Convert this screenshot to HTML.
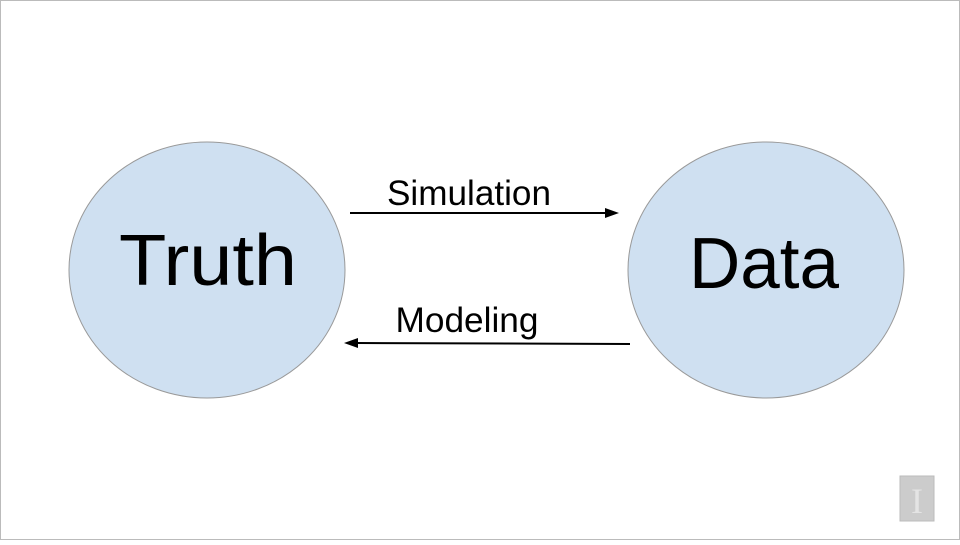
<!DOCTYPE html>
<html><head><style>
html,body{margin:0;padding:0;background:#fff;}
</style></head><body>
<svg width="960" height="540" viewBox="0 0 960 540" xmlns="http://www.w3.org/2000/svg">
<rect x="0.5" y="0.5" width="959" height="539" fill="#fff" stroke="#bbb" stroke-width="1"/>
<ellipse cx="207" cy="270" rx="138" ry="128" fill="#cfe0f1" stroke="#999" stroke-width="1"/>
<ellipse cx="766" cy="270" rx="138" ry="128" fill="#cfe0f1" stroke="#999" stroke-width="1"/>
<text x="208" y="285" font-family="Liberation Sans, sans-serif" font-size="72" text-anchor="middle" fill="#000" textLength="178" lengthAdjust="spacingAndGlyphs">Truth</text>
<text x="764" y="288" font-family="Liberation Sans, sans-serif" font-size="72" text-anchor="middle" fill="#000" textLength="150" lengthAdjust="spacingAndGlyphs">Data</text>
<text x="469" y="205" font-family="Liberation Sans, sans-serif" font-size="35" text-anchor="middle" fill="#000" textLength="164" lengthAdjust="spacingAndGlyphs">Simulation</text>
<text x="467" y="332" font-family="Liberation Sans, sans-serif" font-size="35" text-anchor="middle" fill="#000" textLength="143" lengthAdjust="spacingAndGlyphs">Modeling</text>
<line x1="350" y1="213" x2="608" y2="213" stroke="#000" stroke-width="2"/>
<polygon points="619,213 605,208 605,218" fill="#000"/>
<line x1="630" y1="344" x2="356" y2="343" stroke="#000" stroke-width="2"/>
<polygon points="344,343 358,338 358,348" fill="#000"/>
<rect x="900" y="476" width="34" height="45" fill="#ccc" stroke="#bbb"/>
<text x="917" y="513" font-family="Liberation Serif, serif" font-size="36" text-anchor="middle" fill="#e4e4e4">I</text>
</svg>
</body></html>
